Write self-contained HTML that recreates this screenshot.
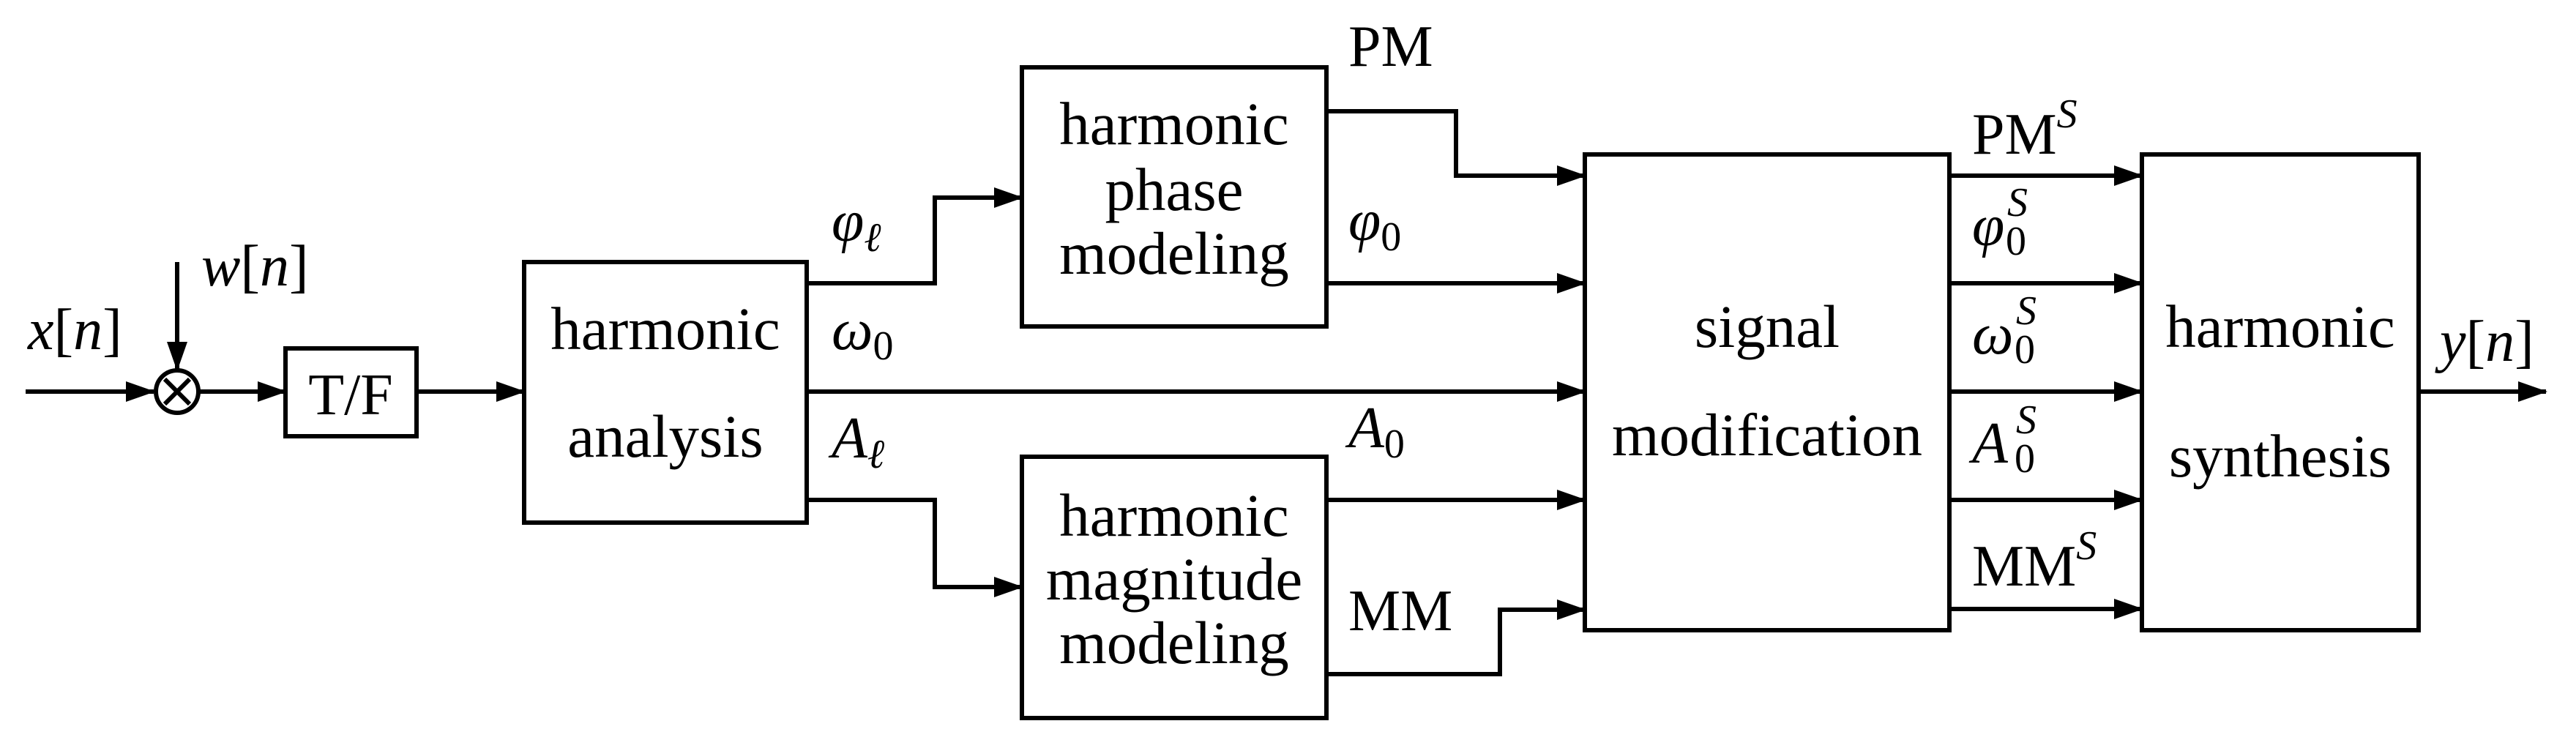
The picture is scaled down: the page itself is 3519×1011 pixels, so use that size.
<!DOCTYPE html>
<html><head><meta charset="utf-8"><style>
html,body{margin:0;padding:0;background:#fff;}
svg{display:block;}
text{font-family:"Liberation Serif",serif;fill:#000;}
.t{font-size:83px;text-anchor:middle;}
.m{font-size:80px;font-style:italic;}
.r{font-size:80px;}
.s{font-size:56px;}
</style></head><body>
<svg width="3519" height="1011" viewBox="0 0 3519 1011" xmlns="http://www.w3.org/2000/svg">
<defs><marker id="a" markerWidth="40" markerHeight="28" refX="38" refY="14" orient="auto" markerUnits="userSpaceOnUse"><path d="M0,0 L40,14 L0,28 Z" fill="#000"/></marker></defs>
<g stroke="#000" stroke-width="6" fill="none">
<line x1="35" y1="535" x2="210" y2="535" marker-end="url(#a)"/>
<circle cx="242" cy="535" r="29"/>
<line x1="225" y1="518" x2="259" y2="552"/><line x1="259" y1="518" x2="225" y2="552"/>
<line x1="242" y1="358" x2="242" y2="505" marker-end="url(#a)"/>
<line x1="271" y1="535" x2="390" y2="535" marker-end="url(#a)"/>
<rect x="390" y="476" width="179" height="120"/>
<line x1="569" y1="535" x2="716" y2="535" marker-end="url(#a)"/>
<rect x="716" y="358" width="386" height="356"/>
<polyline points="1102,387 1277,387 1277,270 1396,270" marker-end="url(#a)"/>
<line x1="1102" y1="535" x2="2165" y2="535" marker-end="url(#a)"/>
<polyline points="1102,683 1277,683 1277,802 1396,802" marker-end="url(#a)"/>
<rect x="1396" y="92" width="416" height="354"/>
<rect x="1396" y="624" width="416" height="357"/>
<polyline points="1812,152 1989,152 1989,240 2165,240" marker-end="url(#a)"/>
<line x1="1812" y1="387" x2="2165" y2="387" marker-end="url(#a)"/>
<line x1="1812" y1="683" x2="2165" y2="683" marker-end="url(#a)"/>
<polyline points="1812,921 2049,921 2049,833 2165,833" marker-end="url(#a)"/>
<rect x="2165" y="211" width="498" height="650"/>
<line x1="2663" y1="240" x2="2926" y2="240" marker-end="url(#a)"/>
<line x1="2663" y1="387" x2="2926" y2="387" marker-end="url(#a)"/>
<line x1="2663" y1="535" x2="2926" y2="535" marker-end="url(#a)"/>
<line x1="2663" y1="683" x2="2926" y2="683" marker-end="url(#a)"/>
<line x1="2663" y1="832" x2="2926" y2="832" marker-end="url(#a)"/>
<rect x="2926" y="211" width="378" height="650"/>
<line x1="3304" y1="535" x2="3478" y2="535" marker-end="url(#a)"/>
</g>
<text x="38" y="477" class="m">x<tspan font-style="normal">[</tspan>n<tspan font-style="normal">]</tspan></text>
<text x="275" y="390" class="m">w<tspan font-style="normal">[</tspan>n<tspan font-style="normal">]</tspan></text>
<text x="479" y="566" class="r" text-anchor="middle">T/F</text>
<text x="909" y="477" class="t">harmonic</text>
<text x="909" y="624" class="t">analysis</text>
<text x="1136" y="329" class="m">φ<tspan class="s" dy="14">ℓ</tspan></text>
<text x="1136" y="477" class="m">ω<tspan class="s" font-style="normal" dy="14">0</tspan></text>
<text x="1136" y="625" class="m">A<tspan class="s" dy="14">ℓ</tspan></text>
<text x="1604" y="197" class="t">harmonic</text>
<text x="1604" y="287" class="t">phase</text>
<text x="1604" y="374" class="t">modeling</text>
<text x="1604" y="732" class="t">harmonic</text>
<text x="1604" y="819" class="t">magnitude</text>
<text x="1604" y="906" class="t">modeling</text>
<text x="1842" y="90" class="r">PM</text>
<text x="1842" y="328" class="m">φ<tspan class="s" font-style="normal" dy="14">0</tspan></text>
<text x="1842" y="611" class="m">A<tspan class="s" font-style="normal" dy="14">0</tspan></text>
<text x="1842" y="861" class="r">MM</text>
<text x="2414" y="474" class="t">signal</text>
<text x="2414" y="622" class="t">modification</text>
<text x="2694" y="210" class="r">PM<tspan class="s" font-style="italic" dy="-36">S</tspan></text>
<text x="2694" y="335" class="m">φ</text><text x="2740" y="348" class="s">0</text><text x="2742" y="295" class="s" font-style="italic">S</text>
<text x="2694" y="483" class="m">ω</text><text x="2752" y="496" class="s">0</text><text x="2754" y="443" class="s" font-style="italic">S</text>
<text x="2694" y="632" class="m">A</text><text x="2752" y="645" class="s">0</text><text x="2754" y="592" class="s" font-style="italic">S</text>
<text x="2694" y="800" class="r">MM<tspan class="s" font-style="italic" dy="-36">S</tspan></text>
<text x="3115" y="474" class="t">harmonic</text>
<text x="3115" y="651" class="t">synthesis</text>
<text x="3333" y="493" class="m">y<tspan font-style="normal">[</tspan>n<tspan font-style="normal">]</tspan></text>
</svg>
</body></html>
